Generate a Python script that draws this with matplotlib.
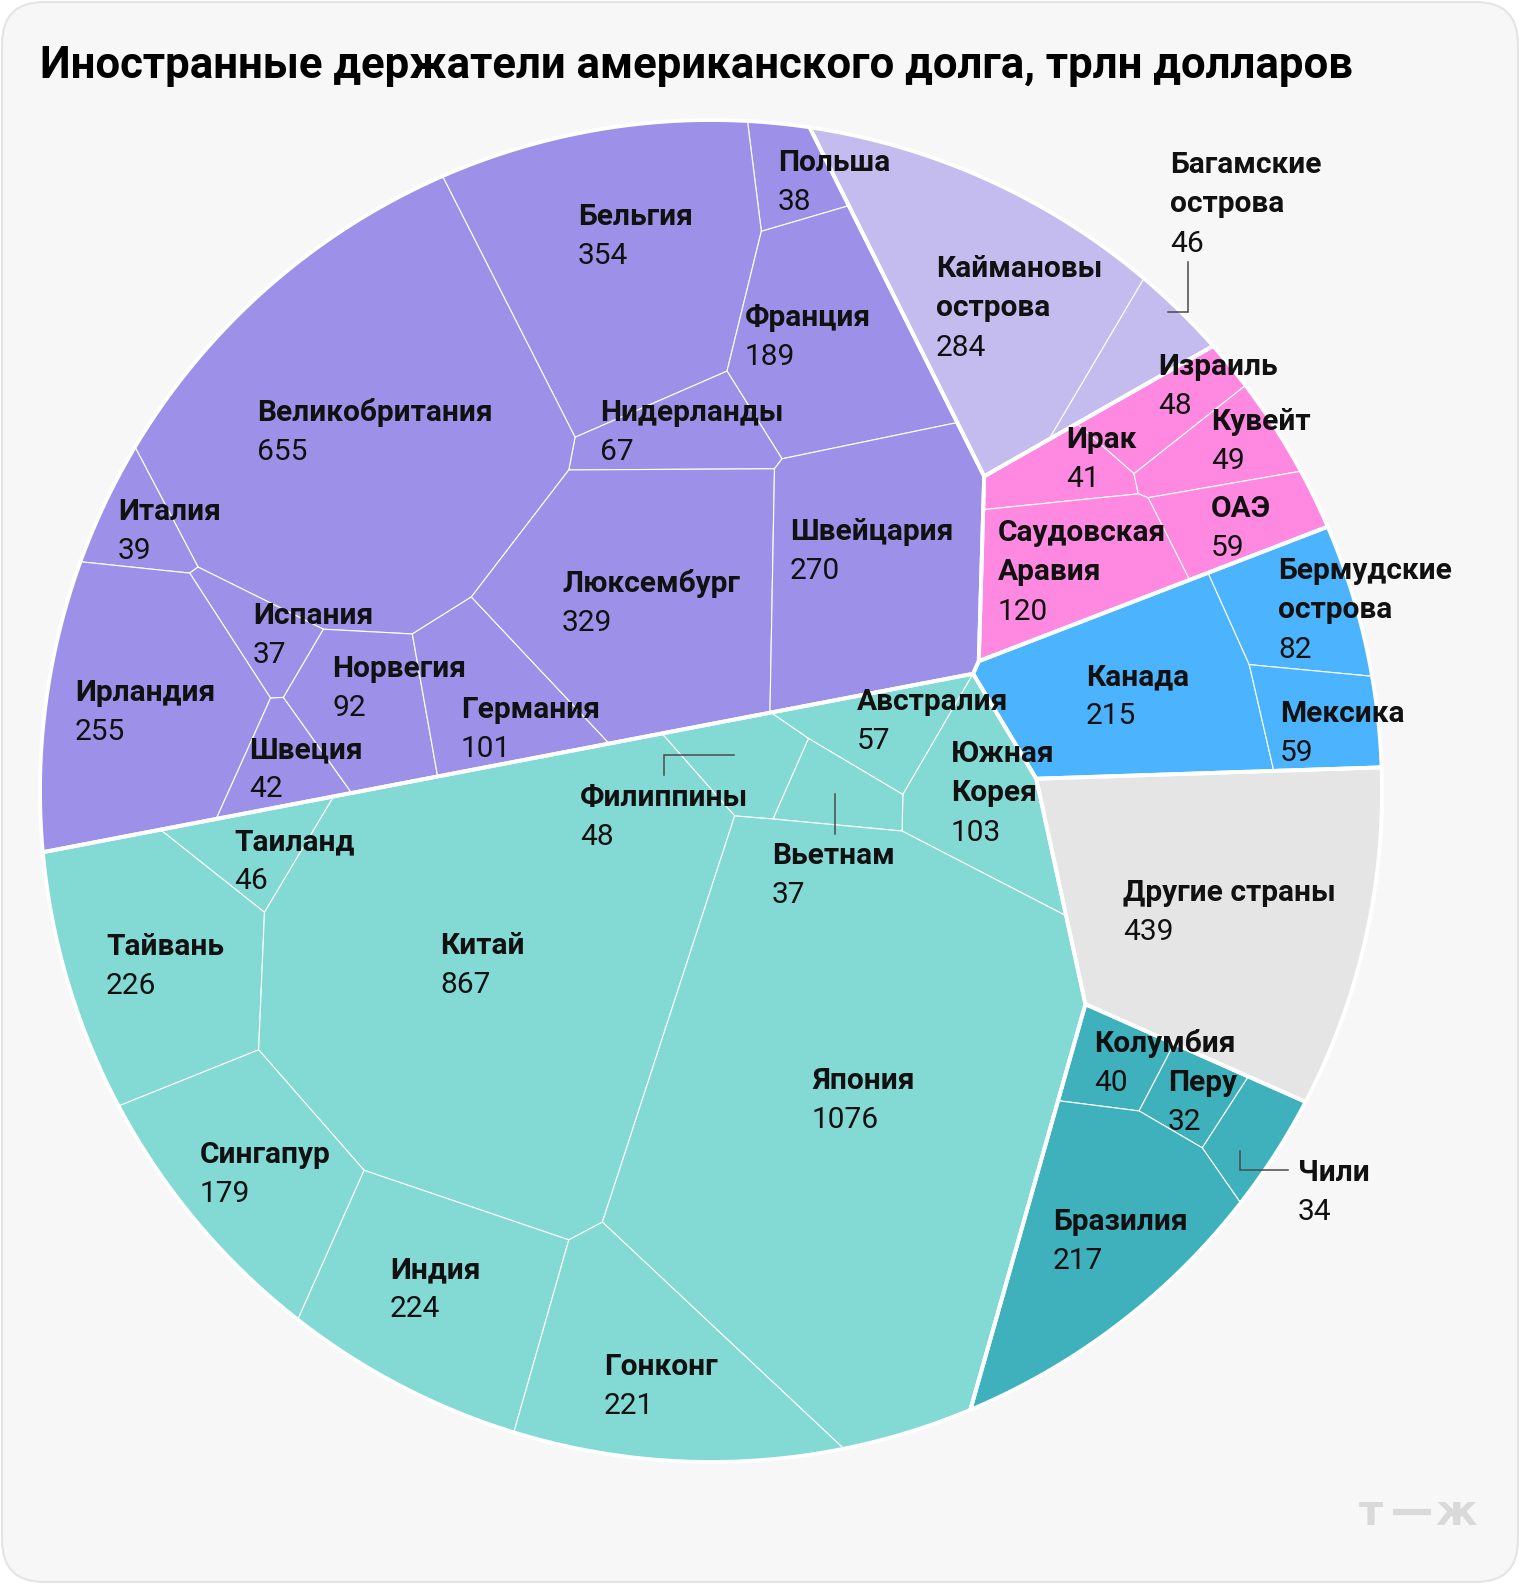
import numpy as np
import matplotlib
matplotlib.use('Agg')
import matplotlib.pyplot as plt
from matplotlib.patches import Polygon, FancyBboxPatch

plt.rcParams['font.family'] = ['Roboto', 'DejaVu Sans']

# ---- data ----
title = "Иностранные держатели американского долга, трлн долларов"

group_names = ["Европа", "Карибы", "Ближний Восток", "Северная Америка",
               "Азия", "Другие", "Латинская Америка"]
group_colors = ["#9d90e8", "#c4bcef", "#ff89e1", "#4cb4fe",
                "#83d9d4", "#e5e5e5", "#3eb1bc"]

countries = ["Польша", "Бельгия", "Франция", "Нидерланды", "Великобритания",
             "Италия", "Испания", "Ирландия", "Швеция", "Норвегия", "Германия",
             "Люксембург", "Швейцария",
             "Каймановы\nострова", "Багамские\nострова",
             "Израиль", "Ирак", "Кувейт", "ОАЭ", "Саудовская\nАравия",
             "Канада", "Бермудские\nострова", "Мексика",
             "Австралия", "Южная\nКорея", "Филиппины", "Вьетнам", "Таиланд",
             "Тайвань", "Китай", "Япония", "Сингапур", "Индия", "Гонконг",
             "Другие страны",
             "Колумбия", "Перу", "Чили", "Бразилия"]
values = [38, 354, 189, 67, 655, 39, 37, 255, 42, 92, 101, 329, 270,
          284, 46,
          48, 41, 49, 59, 120,
          215, 82, 59,
          57, 103, 48, 37, 46, 226, 867, 1076, 179, 224, 221,
          439,
          40, 32, 34, 217]
group_of = [0] * 13 + [1] * 2 + [2] * 5 + [3] * 3 + [4] * 11 + [5] + [6] * 4

# ---- layout (pixel coords, y down) ----
W, H = 1520, 1584
CX, CY, R = 711, 791, 671

group_centers = [(475, 465), (957, 238), (1125, 495), (1200, 685),
                 (596, 1091), (1215, 932), (1105, 1230)]
cell_centers = [(786, 177), (592, 252), (808, 333), (654, 424), (354, 414),
                (136, 525), (258, 631), (136, 707), (268, 763), (364, 707),
                (490, 697), (646, 596), (869, 566),
                (975, 273), (1126, 343),
                (1172, 389), (1081, 449), (1222, 444), (1237, 520), (1071, 566),
                (1126, 707), (1293, 616), (1318, 719),
                (879, 722), (985, 798), (752, 762), (838, 793), (247, 859),
                (152, 970), (475, 995), (848, 1121), (246, 1180), (424, 1300),
                (650, 1372),
                (1215, 932),
                (1111, 1076), (1187, 1111), (1247, 1151), (1096, 1252)]
label_pos = [(778, 160), (578, 214), (745, 315), (600, 410), (257, 410),
             (118, 509), (253, 613), (75, 690), (249, 747), (332, 666),
             (461, 707), (562, 581), (790, 529),
             (936, 266), (1170, 162),
             (1158, 364), (1066, 437), (1211, 419), (1211, 506), (998, 530),
             (1086, 674), (1278, 568), (1280, 711),
             (857, 699), (951, 751), (580, 795), (772, 853), (234, 839),
             (106, 944), (440, 943), (812, 1078), (200, 1152), (390, 1267),
             (604, 1364),
             (1123, 890),
             (1094, 1041), (1168, 1080), (1298, 1170), (1053, 1219)]
leaders = [
    [(1188, 262), (1188, 312), (1168, 312)],
    [(664, 775), (664, 755), (734, 755)],
    [(835, 794), (835, 834)],
    [(1240, 1151), (1240, 1170), (1288, 1170)],
]
LINE = 39.4


def clip(poly, a, b):
    s = poly @ a - b
    inside = s <= 1e-9
    if inside.all():
        return poly
    if not inside.any():
        return poly[:0]
    nxt = np.roll(poly, -1, axis=0)
    s2 = np.roll(s, -1)
    cross = inside != np.roll(inside, -1)
    den = np.where(cross, s - s2, 1.0)
    t = np.where(cross, s / den, 0.0)
    ip = poly + (nxt - poly) * t[:, None]
    out = np.stack([poly, ip], axis=1)
    mask = np.stack([inside, cross], axis=1)
    return out[mask]


def power_cells(region, p, w):
    sq = (p ** 2).sum(1)
    cells = []
    for i in range(len(p)):
        poly = region
        order = np.argsort(((p - p[i]) ** 2).sum(1))
        for j in order:
            if j == i:
                continue
            poly = clip(poly, 2 * (p[j] - p[i]), sq[j] - sq[i] - w[j] + w[i])
            if len(poly) == 0:
                break
        cells.append(poly)
    return cells


def area_centroid(poly):
    if len(poly) < 3:
        return 0.0, np.array([np.nan, np.nan])
    x, y = poly[:, 0], poly[:, 1]
    x2, y2 = np.roll(x, -1), np.roll(y, -1)
    cr = x * y2 - x2 * y
    a = cr.sum() / 2
    if abs(a) < 1e-9:
        return 0.0, poly.mean(0)
    c = np.array([((x + x2) * cr).sum(), ((y + y2) * cr).sum()]) / (6 * a)
    return abs(a), c


def solve(region, vals, targets, iters=320, settle=80):
    vals = np.asarray(vals, float)
    targets = np.asarray(targets, float)
    if len(vals) == 1:
        return [region]
    total, _ = area_centroid(region)
    goal = vals / vals.sum() * total
    p = targets.copy()
    w = np.zeros(len(p))
    step = np.full(len(p), 0.3)
    prev = np.zeros(len(p))
    for it in range(iters + settle):
        cells = power_cells(region, p, w)
        ac = [area_centroid(c) for c in cells]
        A = np.array([a for a, _ in ac])
        C = np.array([c for _, c in ac])
        err = goal - A
        flip = np.sign(err) != np.sign(prev)
        step = np.clip(np.where(flip, step * 0.5, step * 1.1), 0.01, 3.0)
        prev = err
        w += step * err
        if it < iters:
            ok = ~np.isnan(C).any(1)
            p[ok] += 0.25 * (targets[ok] - C[ok])
            d = p - targets
            nd = np.linalg.norm(d, axis=1, keepdims=True)
            p = targets + d * np.minimum(1, 90 / np.maximum(nd, 1e-9))
    return power_cells(region, p, w)


ang = np.linspace(0, 2 * np.pi, 720, endpoint=False)
disk = np.column_stack([CX + R * np.cos(ang), CY + R * np.sin(ang)])

group_of = np.array(group_of)
values = np.array(values)
gvals = [values[group_of == g].sum() for g in range(len(group_names))]
group_cells = solve(disk, gvals, group_centers)

country_cells = [None] * len(countries)
for g in range(len(group_names)):
    idx = np.where(group_of == g)[0]
    cells = solve(group_cells[g], values[idx], [cell_centers[i] for i in idx])
    for k, i in enumerate(idx):
        country_cells[i] = cells[k]

# ---- draw ----
fig = plt.figure(figsize=(W / 100, H / 100), dpi=100)
fig.patch.set_facecolor("white")
ax = fig.add_axes([0, 0, 1, 1])
ax.set_xlim(0, W)
ax.set_ylim(H, 0)
ax.axis("off")

ax.add_patch(FancyBboxPatch((2, 2), W - 4, H - 4,
                            boxstyle="round,pad=0,rounding_size=42",
                            fc="#f7f7f7", ec="#e4e4e4", lw=1.5, zorder=0))

for i, c in enumerate(country_cells):
    if len(c) < 3:
        continue
    ax.add_patch(Polygon(c, closed=True, fc=group_colors[group_of[i]],
                         ec="white", lw=0.8, zorder=1))
for c in group_cells:
    ax.add_patch(Polygon(c, closed=True, fill=False, ec="white", lw=2.8,
                         joinstyle="round", zorder=2))

for pts in leaders:
    pts = np.array(pts)
    ax.plot(pts[:, 0], pts[:, 1], color="#4a4a4a", lw=1.1, zorder=3,
            solid_joinstyle="miter")

for name, val, (x, y) in zip(countries, values, label_pos):
    lines = name.split("\n")
    for k, ln in enumerate(lines):
        ax.text(x, y + k * LINE + 11, ln, fontsize=21.5, fontweight="bold",
                color="#111111", ha="left", va="baseline", zorder=5)
    ax.text(x, y + len(lines) * LINE + 11, str(val), fontsize=21.5,
            fontweight="normal", color="#111111", ha="left", va="baseline",
            zorder=5)

ax.text(40, 66, title, fontsize=31.5, fontweight="bold", color="#000000",
        ha="left", va="center")

# logo
ax.text(1371, 1513, "т", fontsize=30, fontweight="bold", color="#d9d9d9",
        family="DejaVu Sans", ha="center", va="center")
ax.plot([1393, 1431], [1512, 1512], color="#d9d9d9", lw=4.5,
        solid_capstyle="butt")
ax.text(1456, 1513, "ж", fontsize=30, fontweight="bold", color="#d9d9d9",
        family="DejaVu Sans", ha="center", va="center")

fig.savefig("out.png", dpi=100, facecolor=fig.get_facecolor())
